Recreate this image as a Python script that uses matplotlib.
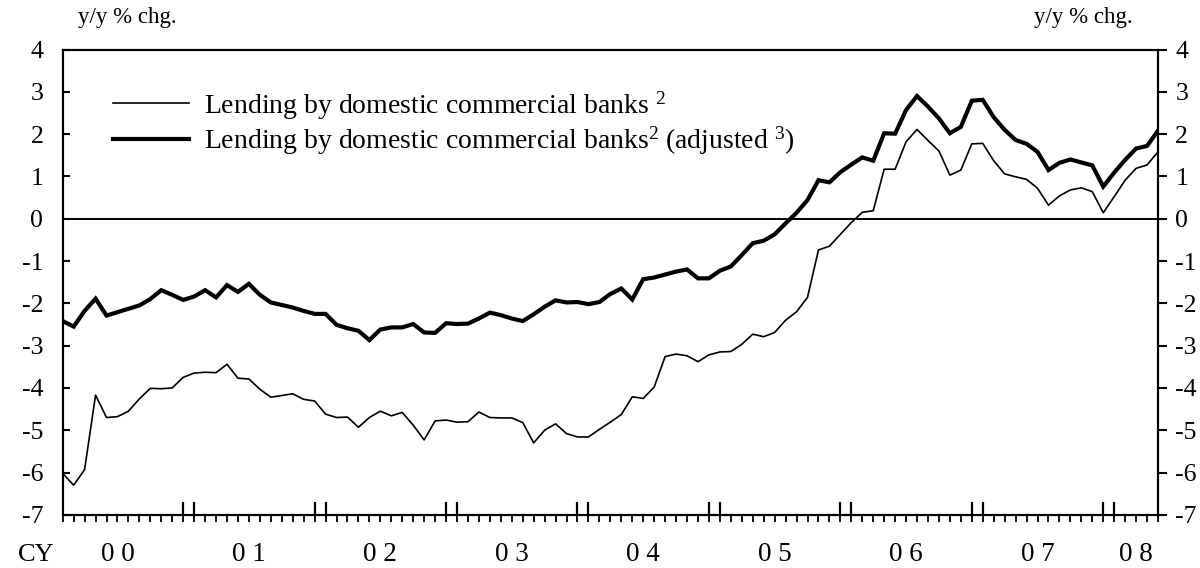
import numpy as np
import matplotlib
matplotlib.use("Agg")
import matplotlib.pyplot as plt
from matplotlib.lines import Line2D

plt.rcParams['font.family'] = ['Liberation Serif', 'DejaVu Serif']
plt.rcParams['mathtext.default'] = 'regular'
plt.rcParams['axes.unicode_minus'] = False

# monthly, Jan 2000 .. May 2008
lending = [-6.02, -6.30, -5.93, -4.17, -4.70, -4.68, -4.55, -4.26, -4.01, -4.02,
           -4.00, -3.75, -3.65, -3.63, -3.64, -3.44, -3.77, -3.79, -4.03, -4.22,
           -4.18, -4.14, -4.27, -4.31, -4.62, -4.70, -4.69, -4.93, -4.70, -4.55,
           -4.66, -4.58, -4.88, -5.23, -4.78, -4.76, -4.81, -4.80, -4.57, -4.70,
           -4.71, -4.71, -4.82, -5.30, -5.00, -4.85, -5.08, -5.16, -5.16, -4.98,
           -4.81, -4.63, -4.21, -4.25, -3.98, -3.26, -3.20, -3.24, -3.38, -3.22,
           -3.15, -3.14, -2.97, -2.73, -2.79, -2.69, -2.40, -2.20, -1.86, -0.74,
           -0.65, -0.37, -0.09, 0.15, 0.19, 1.17, 1.17, 1.82, 2.11, 1.85,
           1.60, 1.03, 1.15, 1.77, 1.78, 1.37, 1.06, 0.99, 0.93, 0.72,
           0.32, 0.54, 0.68, 0.73, 0.64, 0.14, 0.52, 0.91, 1.19, 1.27,
           1.58]
lending_adj = [-2.42, -2.55, -2.18, -1.89, -2.29, -2.21, -2.13, -2.05, -1.90, -1.69,
               -1.80, -1.92, -1.84, -1.69, -1.86, -1.57, -1.73, -1.54, -1.80, -1.98,
               -2.04, -2.10, -2.18, -2.25, -2.25, -2.51, -2.59, -2.65, -2.87, -2.62,
               -2.57, -2.57, -2.49, -2.69, -2.70, -2.47, -2.49, -2.48, -2.36, -2.22,
               -2.28, -2.36, -2.42, -2.26, -2.08, -1.93, -1.98, -1.97, -2.02, -1.97,
               -1.78, -1.65, -1.91, -1.43, -1.39, -1.32, -1.25, -1.20, -1.41, -1.41,
               -1.23, -1.13, -0.86, -0.58, -0.52, -0.37, -0.11, 0.14, 0.44, 0.91,
               0.86, 1.10, 1.28, 1.45, 1.37, 2.02, 2.01, 2.57, 2.90, 2.65,
               2.37, 2.02, 2.17, 2.79, 2.81, 2.40, 2.10, 1.86, 1.77, 1.58,
               1.15, 1.32, 1.40, 1.33, 1.26, 0.76, 1.09, 1.39, 1.66, 1.72,
               2.08]
year_labels = ["0 0", "0 1", "0 2", "0 3", "0 4", "0 5", "0 6", "0 7", "0 8"]
year_label_pos = [5, 17, 29, 41, 53, 65, 77, 89, 98]
year_marks = [11, 12, 23, 24, 35, 36, 47, 48, 59, 60, 71, 72, 83, 84, 95, 96]
yticks = list(range(-7, 5))

x = np.arange(len(lending))

fig = plt.figure(figsize=(12, 5.68), dpi=100)
ax = fig.add_axes([62.7/1200, 1-514.8/568, (1158-62.7)/1200, (514.8-49.5)/568])

ax.plot(x, lending, color='black', lw=1.2)
ax.plot(x, lending_adj, color='black', lw=3.0, solid_joinstyle='miter')
ax.axhline(0, color='black', lw=1.4)

ax.set_xlim(0, len(x)-1)
ax.set_ylim(-7, 4)
for s in ax.spines.values():
    s.set_linewidth(1.5)

ax.set_xticks(x)
ax.set_xticklabels([])
ax.set_xticks(year_marks, minor=True)
ax.xaxis.remove_overlapping_locs = False
ax.tick_params(axis='x', which='major', direction='out', length=5.2, width=1.3)
ax.tick_params(axis='x', which='minor', direction='in', length=9.5, width=1.6)

ax.set_yticks(yticks)
ax.set_yticklabels([str(v) for v in yticks])
ax.tick_params(axis='y', direction='in', length=5, width=1.5, labelsize=18.5, pad=14)

ax2 = ax.twinx()
ax2.set_ylim(-7, 4)
ax2.set_yticks(yticks)
ax2.set_yticklabels([str(v) for v in yticks])
ax2.tick_params(axis='y', direction='out', length=6.5, width=1.5, labelsize=18.5, pad=6)
for s in ax2.spines.values():
    s.set_linewidth(1.5)

for lab, p in zip(year_labels, year_label_pos):
    ax.text(p, -0.086, lab, transform=ax.get_xaxis_transform(), ha='center', va='center', fontsize=19.5)
fig.text(36/1200, 1-555/568, "CY", ha='center', va='center', fontsize=19)

fig.text(78/1200, 1-18/568, "y/y % chg.", ha='left', va='center', fontsize=16.5)
fig.text(1133/1200, 1-18/568, "y/y % chg.", ha='right', va='center', fontsize=16.5)

handles = [Line2D([], [], color='black', lw=1.2), Line2D([], [], color='black', lw=3.0)]
labels = ["Lending by domestic commercial banks $^{2}$",
          "Lending by domestic commercial banks$^{2}$ (adjusted $^{3}$)"]
ax.legend(handles, labels, loc='upper left', bbox_to_anchor=(113/1200, 1-89/568),
          bbox_transform=fig.transFigure, frameon=False, fontsize=20,
          handlelength=2.75, handletextpad=0.54, labelspacing=0.12,
          borderpad=0, borderaxespad=0)

fig.savefig("out.png", dpi=100)
